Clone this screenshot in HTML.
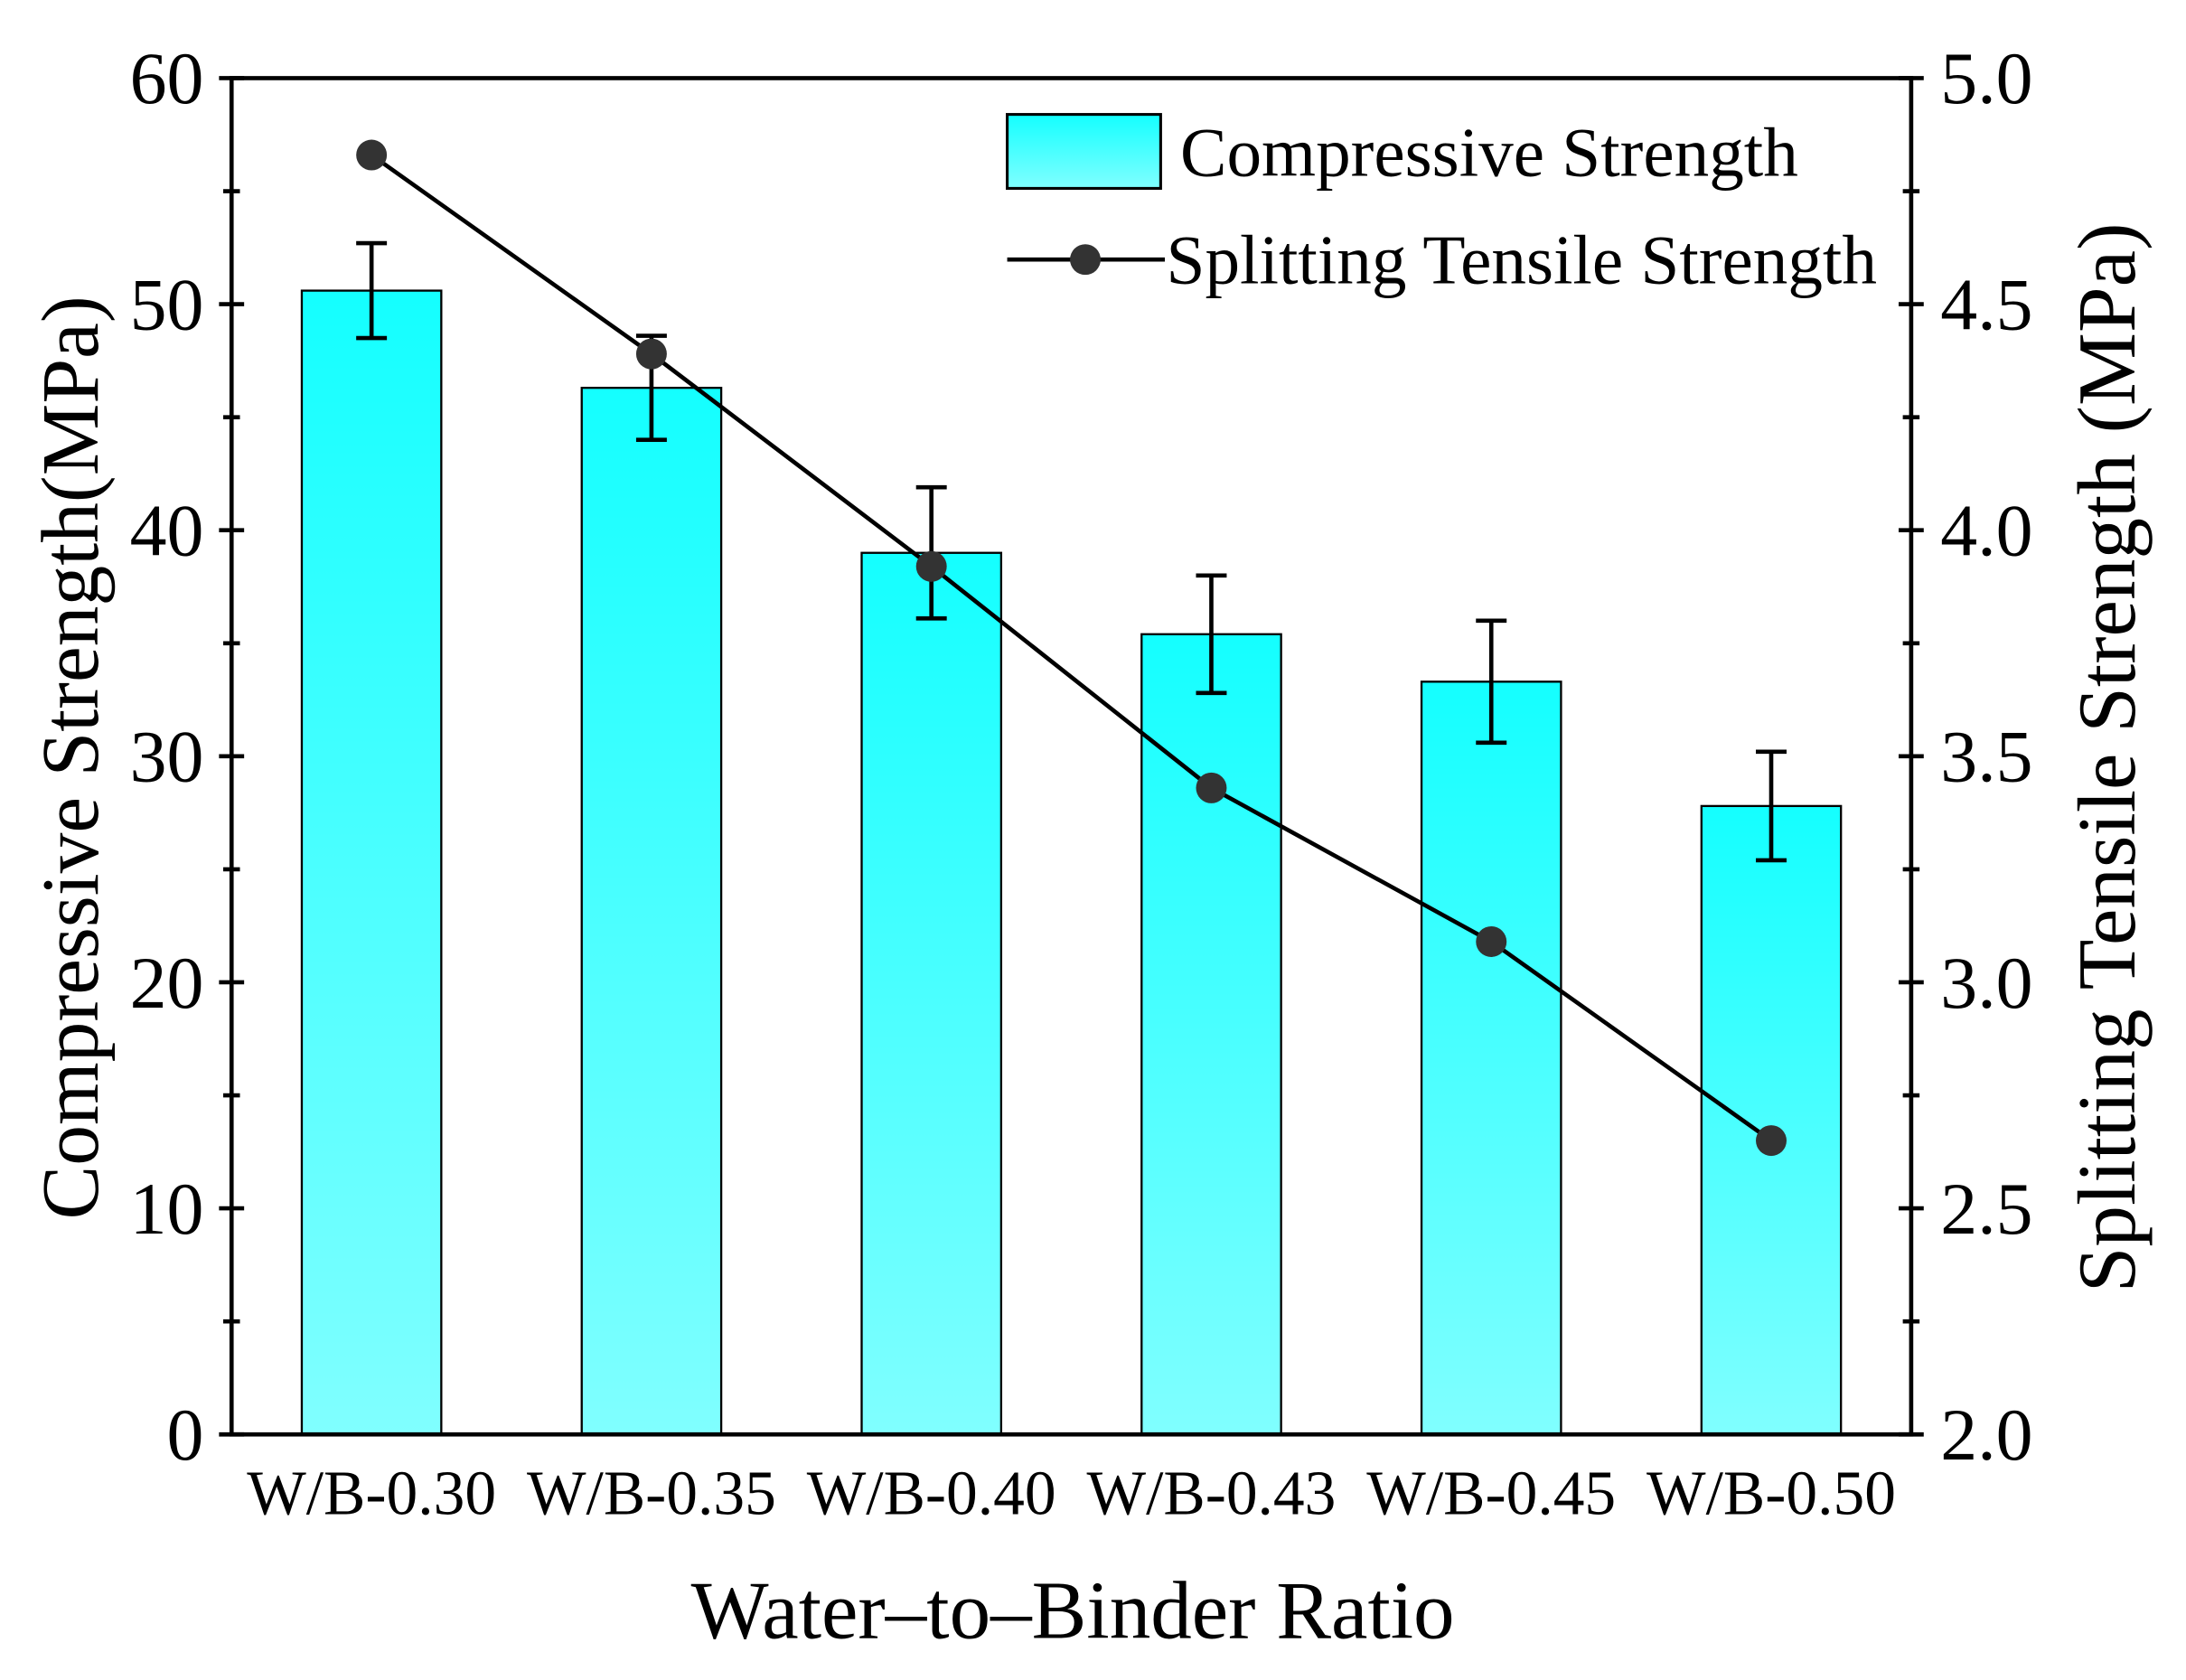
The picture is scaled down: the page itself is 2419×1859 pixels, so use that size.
<!DOCTYPE html>
<html><head><meta charset="utf-8"><style>html,body{margin:0;padding:0;background:#fff;overflow:hidden}svg{display:block}</style></head>
<body>
<svg id="chart" width="2419" height="1859" viewBox="0 0 1567 1204" preserveAspectRatio="none" font-family="'Liberation Serif', serif">
<defs><linearGradient id="g" x1="0" y1="0" x2="0" y2="1"><stop offset="0" stop-color="#14ffff"/><stop offset="1" stop-color="#80ffff"/></linearGradient></defs>
<g id="bars"></g>
<g id="errs"></g>
<g id="line"></g>
<g id="axes"></g>
<text x="769" y="1174" font-size="59" text-anchor="middle">Water–to–Binder Ratio</text>
<text transform="translate(70,543) rotate(-90)" font-size="58" text-anchor="middle">Compressive Strength(MPa)</text>
<text transform="translate(1530,543) rotate(-90)" font-size="59" text-anchor="middle">Splitting Tensile Strength (MPa)</text>
<g>
<rect x="722" y="82" width="110" height="53" fill="url(#g)" stroke="#000" stroke-width="2"/>
<text x="846" y="126" font-size="50">Compressive Strength</text>
<line x1="722" y1="186" x2="835" y2="186" stroke="#000" stroke-width="3"/>
<circle cx="778" cy="186" r="11" fill="#333"/>
<text x="836" y="203" font-size="50">Splitting Tensile Strength</text>
</g>
</svg>
<script>
const categories=["W/B-0.30","W/B-0.35","W/B-0.40","W/B-0.43","W/B-0.45","W/B-0.50"];
const compressive=[50.6,46.3,39.0,35.4,33.3,27.8];
const compErr=[2.1,2.3,2.9,2.6,2.7,2.4];
const tensile=[4.83,4.39,3.92,3.43,3.09,2.65];
const leftTicks=[0,10,20,30,40,50,60];
const rightTicks=["2.0","2.5","3.0","3.5","4.0","4.5","5.0"];
const L=166,R=1370,T=56,B=1028;
const NS="http://www.w3.org/2000/svg";
const yL=v=>B-(v/60)*(B-T);
const yR=v=>B-((v-2)/3)*(B-T);
const xC=i=>L+(i+0.5)*(R-L)/categories.length;
function mk(tag,attrs,parent){const e=document.createElementNS(NS,tag);for(const k in attrs)e.setAttribute(k,attrs[k]);document.getElementById(parent).appendChild(e);return e;}
compressive.forEach((v,i)=>{
 const r=mk('rect',{x:xC(i)-50,y:yL(v),width:100,height:B-yL(v),fill:'url(#g)',stroke:'#000','stroke-width':1.5},'bars');
 
 
 const x=xC(i),hi=yL(v+compErr[i]),lo=yL(v-compErr[i]);
 const p=mk('path',{d:`M${x},${hi}V${lo}M${x-11},${hi}H${x+11}M${x-11},${lo}H${x+11}`,stroke:'#000','stroke-width':3,fill:'none'},'errs');
 
 
});
const pl=mk('polyline',{points:tensile.map((v,i)=>xC(i)+','+yR(v)).join(' '),fill:'none',stroke:'#000','stroke-width':3},'line');


tensile.forEach((v,i)=>{const c=mk('circle',{cx:xC(i),cy:yR(v),r:11,fill:'#333'},'line');
 
 });
const fr=mk('rect',{x:L,y:T,width:R-L,height:B-T,fill:'none',stroke:'#000','stroke-width':3},'axes');


for(let k=0;k<=12;k++){const y=B-k*(B-T)/12,len=k%2?6:9;
 const t=mk('path',{d:`M${L-len},${y}H${L+len}M${R-len},${y}H${R+len}`,stroke:'#000','stroke-width':3},'axes');
 
 }
leftTicks.forEach(v=>{const t=mk('text',{x:146,y:yL(v)+18,'font-size':53,'text-anchor':'end'},'axes');t.textContent=v;
 
 });
rightTicks.forEach(s=>{const t=mk('text',{x:1391,y:yR(+s)+18,'font-size':53},'axes');t.textContent=s;
 
 });
categories.forEach((c,i)=>{const t=mk('text',{x:xC(i),y:1085,'font-size':45,'text-anchor':'middle'},'axes');t.textContent=c;
 
 });
</script>
</body></html>
